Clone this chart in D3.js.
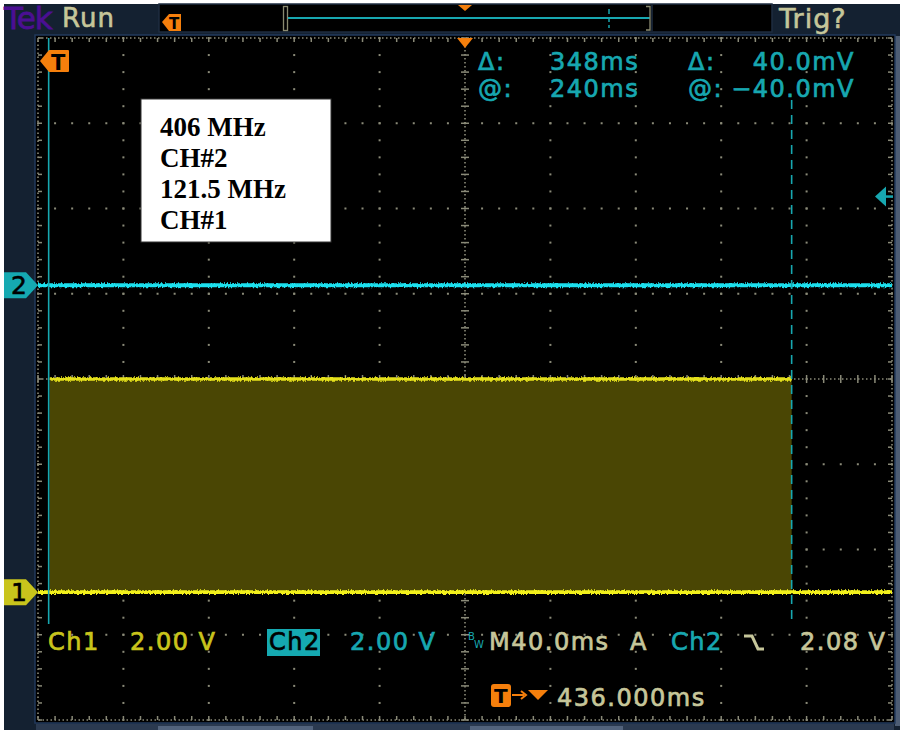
<!DOCTYPE html>
<html>
<head>
<meta charset="utf-8">
<script src="https://cdn.jsdelivr.net/npm/d3@7"></script>
<style>
  html, body { margin: 0; padding: 0; background: #ffffff; }
  svg { display: block; }
  .ro { font-family: "DejaVu Sans", sans-serif; font-size: 24px; paint-order: stroke; stroke-width: 0.7px; }
</style>
</head>
<body>
<svg id="scope" width="902" height="734"></svg>
<script>
// ---- acquisition settings ----
const timeDomainMs = [0, 400];          // 10 divisions at 40 ms/div
const divDomain = [-4, 4];              // 8 vertical divisions
const voltsPerDiv = { ch1: 2.0, ch2: 2.0 };
const groundDiv = { ch1: -2.5, ch2: 1.1 };

// ---- waveforms (time in ms, level in volts) ----
const ch2Trace = [[0, 0], [400, 0]];
const ch1Baseline = [[0, 0], [400, 0]];
const ch1Burst = [[5.5, 5.0], [353, 5.0]];

// ---- cursors and trigger ----
const cursorTimes = [5, 353];
const triggerLevelV = 2.08;

// ---- readout text ----
const cursorReadout = [["Δ:", "348ms", "Δ:", "40.0mV"], ["@:", "240ms", "@:", "−40.0mV"]];
const legendLines = ["406 MHz", "CH#2", "121.5 MHz", "CH#1"];
const statusLine = { ch1: "2.00 V", ch2: "2.00 V", timebase: "M40.0ms", trigSrc: "Ch2", trigLevel: "2.08 V", delay: "436.000ms" };

const C = {
  navy: "#142131", grid: "#8a8a78", ch1: "#f2f01e", ch1Text: "#c9c41c", ch1Fill: "#4a4604",
  ch2: "#1ee0ee", ch2Text: "#17a7b0", khaki: "#c6c69a", orange: "#f57f0c", tek: "#4b0f93"
};

const svg = d3.select("#scope");
const x = d3.scaleLinear().domain(timeDomainMs).range([38, 892]);
const y = d3.scaleLinear().domain(divDomain).range([720, 38]);
const yCh = (ch, v) => y(groundDiv[ch] + v / voltsPerDiv[ch]);

// noise filter for trace fuzz
const defs = svg.append("defs");
const f = defs.append("filter").attr("id", "fuzz").attr("filterUnits", "userSpaceOnUse")
  .attr("x", 0).attr("y", 0).attr("width", 902).attr("height", 734);
f.append("feTurbulence").attr("type", "fractalNoise").attr("baseFrequency", "0.7 0.3")
  .attr("numOctaves", 2).attr("seed", 4).attr("result", "n");
f.append("feDisplacementMap").attr("in", "SourceGraphic").attr("in2", "n")
  .attr("scale", 4).attr("xChannelSelector", "R").attr("yChannelSelector", "G");

// ---- frame ----
svg.append("rect").attr("x", 4).attr("y", 4).attr("width", 896).attr("height", 726).attr("fill", C.navy);
svg.append("rect").attr("x", 895).attr("y", 36).attr("width", 5).attr("height", 690).attr("fill", "#4d5d74");
svg.append("rect").attr("x", 35).attr("y", 35).attr("width", 860).attr("height", 688)
  .attr("fill", "#000").attr("stroke", "#223a5c").attr("stroke-width", 1.5);
// bottom tab strip
svg.append("rect").attr("x", 36).attr("y", 724).attr("width", 858).attr("height", 6).attr("fill", "#2b3a50");
[[158, 313], [470, 623]].forEach(([a, b]) =>
  svg.append("rect").attr("x", a).attr("y", 726).attr("width", b - a).attr("height", 4).attr("fill", "#52637c"));

// ---- top bar ----
svg.append("text").attr("x", 4).attr("y", 29).attr("fill", C.tek)
  .style("font-family", "DejaVu Sans").style("font-size", "31px").style("letter-spacing", "-1px")
  .attr("stroke", C.tek).attr("stroke-width", 0.8).text("Tek");
svg.append("text").attr("x", 62).attr("y", 27).attr("fill", C.khaki)
  .style("font-family", "DejaVu Sans").style("font-size", "26px").style("letter-spacing", "1px")
  .attr("stroke", C.khaki).attr("stroke-width", 0.6).text("Run");
svg.append("rect").attr("x", 159).attr("y", 4).attr("width", 613).attr("height", 28)
  .attr("fill", "#000").attr("stroke", "#1e2d40").attr("stroke-width", 1.5);
svg.append("line").attr("x1", 652).attr("x2", 652).attr("y1", 5).attr("y2", 31).attr("stroke", "#1e2d40").attr("stroke-width", 1.5);
// record view: trigger flag, bracket, window line
svg.append("path").attr("d", "M162,22 L169,14 H181 V31 H169 Z").attr("fill", C.orange);
svg.append("text").attr("x", 169).attr("y", 29).attr("fill", "#000").style("font-family", "DejaVu Sans").style("font-weight", "bold").style("font-size", "15px").text("T");
svg.append("rect").attr("x", 283.5).attr("y", 6.5).attr("width", 4).attr("height", 24).attr("fill", "none").attr("stroke", "#8a8a70").attr("stroke-width", 1.3);
svg.append("line").attr("x1", 288).attr("x2", 650).attr("y1", 18).attr("y2", 18).attr("stroke", C.ch2Text).attr("stroke-width", 2);
svg.append("line").attr("x1", 609).attr("x2", 609).attr("y1", 9).attr("y2", 28).attr("stroke", C.ch2Text).attr("stroke-width", 1.5).attr("stroke-dasharray", "5,3");
svg.append("path").attr("d", "M646,6.5 H650 V30 H646").attr("fill", "none").attr("stroke", "#8a8a70").attr("stroke-width", 1.3);
svg.append("path").attr("d", `M${x(200) - 7},5 H${x(200) + 7} L${x(200)},11 Z`).attr("fill", C.orange);
svg.append("text").attr("x", 779).attr("y", 28).attr("fill", C.khaki)
  .style("font-family", "DejaVu Sans").style("font-size", "27px").style("letter-spacing", "1px")
  .attr("stroke", C.khaki).attr("stroke-width", 0.6).text("Trig?");

// ---- graticule ----
const g = svg.append("g");
const xDivs = d3.range(timeDomainMs[0], timeDomainMs[1] + 1, 40);
const yDivs = d3.range(divDomain[0], divDomain[1] + 1, 1);
const minorX = d3.range(timeDomainMs[0], timeDomainMs[1] + 0.1, 8);
const minorY = d3.range(divDomain[0], divDomain[1] + 0.01, 0.2);
const xc = x(200), yc = y(0);
// interior dotted division lines
xDivs.slice(1, -1).filter(t => t !== 200).forEach(t => {
  minorY.forEach(d => g.append("rect").attr("x", x(t) - 1).attr("y", y(d) - 1).attr("width", 2).attr("height", 2).attr("fill", C.grid));
});
yDivs.slice(1, -1).filter(d => d !== 0).forEach(d => {
  minorX.forEach(t => g.append("rect").attr("x", x(t) - 1).attr("y", y(d) - 1).attr("width", 2).attr("height", 2).attr("fill", C.grid));
});
// centre axes with fine dots and minor ticks
g.append("line").attr("x1", xc).attr("x2", xc).attr("y1", y(4)).attr("y2", y(-4)).attr("stroke", C.grid).attr("stroke-width", 1.6).attr("stroke-dasharray", "1.5,2.5");
g.append("line").attr("x1", x(0)).attr("x2", x(400)).attr("y1", yc).attr("y2", yc).attr("stroke", C.grid).attr("stroke-width", 1.6).attr("stroke-dasharray", "1.5,2.5");
minorY.forEach(d => g.append("line").attr("x1", xc - 4).attr("x2", xc + 4).attr("y1", y(d)).attr("y2", y(d)).attr("stroke", C.grid).attr("stroke-width", 1.5));
minorX.forEach(t => g.append("line").attr("x1", x(t)).attr("x2", x(t)).attr("y1", yc - 4).attr("y2", yc + 4).attr("stroke", C.grid).attr("stroke-width", 1.5));
// border
g.append("rect").attr("x", x(0)).attr("y", y(4)).attr("width", x(400) - x(0)).attr("height", y(-4) - y(4))
  .attr("fill", "none").attr("stroke", C.grid).attr("stroke-width", 1.6).attr("stroke-dasharray", "1.5,2.5");
minorX.forEach(t => {
  g.append("line").attr("x1", x(t)).attr("x2", x(t)).attr("y1", y(4)).attr("y2", y(4) + 4).attr("stroke", C.grid).attr("stroke-width", 1.5);
  g.append("line").attr("x1", x(t)).attr("x2", x(t)).attr("y1", y(-4)).attr("y2", y(-4) - 4).attr("stroke", C.grid).attr("stroke-width", 1.5);
});
minorY.forEach(d => {
  g.append("line").attr("x1", x(0)).attr("x2", x(0) + 4).attr("y1", y(d)).attr("y2", y(d)).attr("stroke", C.grid).attr("stroke-width", 1.5);
  g.append("line").attr("x1", x(400)).attr("x2", x(400) - 4).attr("y1", y(d)).attr("y2", y(d)).attr("stroke", C.grid).attr("stroke-width", 1.5);
});

// ---- ch1 burst envelope ----
const bx0 = x(ch1Burst[0][0]), bx1 = x(ch1Burst[1][0]);
svg.append("rect").attr("x", bx0).attr("y", yCh("ch1", ch1Burst[0][1]))
  .attr("width", bx1 - bx0).attr("height", yCh("ch1", 0) - yCh("ch1", ch1Burst[0][1]))
  .attr("fill", C.ch1Fill);

const line = ch => d3.line().x(d => x(d[0])).y(d => yCh(ch, d[1]));
// solid core plus a displaced copy for the noisy look
const core = svg.append("g");
core.append("path").datum(ch1Burst).attr("d", line("ch1")).attr("fill", "none").attr("stroke", "#d6d21a").attr("stroke-width", 2);
core.append("path").datum(ch1Baseline).attr("d", line("ch1")).attr("fill", "none").attr("stroke", C.ch1).attr("stroke-width", 2.2);
core.append("path").datum(ch2Trace).attr("d", line("ch2")).attr("fill", "none").attr("stroke", C.ch2).attr("stroke-width", 2.2);
const traces = svg.append("g").attr("filter", "url(#fuzz)");
traces.append("path").datum(ch1Burst).attr("d", line("ch1")).attr("fill", "none").attr("stroke", "#e4e01c").attr("stroke-width", 3.6);
traces.append("path").datum(ch1Baseline).attr("d", line("ch1")).attr("fill", "none").attr("stroke", C.ch1).attr("stroke-width", 3.8);
traces.append("path").datum(ch2Trace).attr("d", line("ch2")).attr("fill", "none").attr("stroke", C.ch2).attr("stroke-width", 3.8);

// ---- cursors ----
svg.append("line").attr("x1", x(cursorTimes[0])).attr("x2", x(cursorTimes[0])).attr("y1", y(4)).attr("y2", 624)
  .attr("stroke", C.ch2Text).attr("stroke-width", 1.6);
svg.append("line").attr("x1", x(cursorTimes[1])).attr("x2", x(cursorTimes[1])).attr("y1", 100).attr("y2", 624)
  .attr("stroke", C.ch2Text).attr("stroke-width", 1.6).attr("stroke-dasharray", "9,6");

// trigger level arrow (right edge)
const ty = yCh("ch2", triggerLevelV);
svg.append("path").attr("d", `M875,${ty} L886,${ty - 10} V${ty + 10} Z`).attr("fill", C.ch2Text);
svg.append("line").attr("x1", 884).attr("x2", 893).attr("y1", ty).attr("y2", ty).attr("stroke", C.ch2Text).attr("stroke-width", 2.5);

// expansion point and trigger position markers
svg.append("path").attr("d", `M${xc - 8},38 H${xc + 8} L${xc},48 Z`).attr("fill", C.orange);
svg.append("path").attr("d", "M40,61 L49,50 H68 Q69,50 69,51 V71 Q69,72 68,72 H49 Z").attr("fill", C.orange);
svg.append("text").attr("x", 51).attr("y", 70).attr("fill", "#000").style("font-family", "DejaVu Sans").style("font-weight", "bold").style("font-size", "21px").text("T");

// channel ground markers
const marker = (ch, fill, label) => {
  const my = yCh(ch, 0);
  svg.append("path").attr("d", `M4,${my - 13} H26 L38,${my} L26,${my + 13} H4 Z`).attr("fill", fill);
  svg.append("text").attr("x", 11).attr("y", my + 9).attr("fill", "#000")
    .style("font-family", "DejaVu Sans").style("font-size", "25px")
    .attr("stroke", "#000").attr("stroke-width", 0.6).text(label);
};
marker("ch2", "#15a9b1", "2");
marker("ch1", C.ch1Text, "1");

// ---- cursor readouts ----
const roX = [478, 550, 688, 855];
cursorReadout.forEach((row, i) => {
  row.forEach((s, j) => {
    svg.append("text").attr("class", "ro").attr("x", roX[j]).attr("y", 70 + i * 27)
      .attr("text-anchor", j === 3 ? "end" : "start")
      .style("letter-spacing", "1.5px").attr("fill", C.ch2Text).attr("stroke", C.ch2Text).text(s);
  });
});

// ---- legend box ----
svg.append("rect").attr("x", 141).attr("y", 99).attr("width", 190).attr("height", 143)
  .attr("fill", "#fff").attr("stroke", "#333").attr("stroke-width", 1);
legendLines.forEach((s, i) => svg.append("text").attr("x", 160).attr("y", 136 + i * 31)
  .style("font-family", "Liberation Serif, serif").style("font-weight", "bold").style("font-size", "27px")
  .attr("fill", "#000").text(s));

// ---- status line ----
const st = (px, py, s, fill) => svg.append("text").attr("class", "ro").attr("x", px).attr("y", py)
  .style("letter-spacing", "1.5px").attr("fill", fill).attr("stroke", fill).text(s);
st(48, 650, "Ch1", C.ch1Text);
st(130, 650, statusLine.ch1, C.ch1Text);
svg.append("rect").attr("x", 267).attr("y", 629).attr("width", 53).attr("height", 27).attr("fill", "#15a9b1");
st(269, 650, "Ch2", "#000");
st(350, 650, statusLine.ch2, C.ch2Text);
svg.append("text").attr("x", 468).attr("y", 640).attr("fill", C.ch2Text).style("font-family", "DejaVu Sans").style("font-size", "10px").text("B");
svg.append("text").attr("x", 474).attr("y", 648).attr("fill", C.ch2Text).style("font-family", "DejaVu Sans").style("font-size", "10px").text("W");
st(489, 650, statusLine.timebase, C.khaki);
st(630, 650, "A", C.khaki);
st(671, 650, statusLine.trigSrc, C.ch2Text);
svg.append("path").attr("d", "M744,636 H752 L758,649 H764").attr("fill", "none").attr("stroke", C.khaki).attr("stroke-width", 3);
st(800, 650, statusLine.trigLevel, C.khaki);
svg.append("rect").attr("x", 491).attr("y", 684).attr("width", 20).attr("height", 23).attr("rx", 3).attr("fill", C.orange);
svg.append("text").attr("x", 494).attr("y", 703).attr("fill", "#000").style("font-family", "DejaVu Sans").style("font-weight", "bold").style("font-size", "20px").text("T");
svg.append("line").attr("x1", 512).attr("x2", 524).attr("y1", 695).attr("y2", 695).attr("stroke", C.orange).attr("stroke-width", 2);
svg.append("path").attr("d", "M521,691 L526,695 L521,699").attr("fill", "none").attr("stroke", C.orange).attr("stroke-width", 2);
svg.append("path").attr("d", "M528,690 H548 L538,700 Z").attr("fill", C.orange);
st(557, 706, statusLine.delay, C.khaki);
</script>
</body>
</html>
